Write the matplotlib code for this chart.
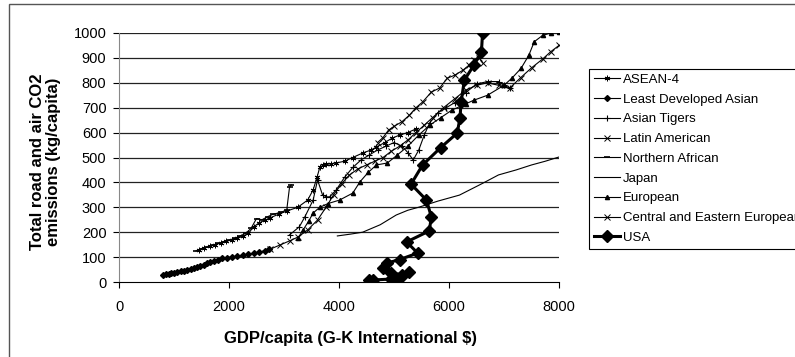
import matplotlib
matplotlib.use('Agg')
import matplotlib.pyplot as plt
from matplotlib.patches import Rectangle

plt.rcParams['font.family'] = ['Liberation Sans', 'DejaVu Sans']

# GDP/capita (x) and road+air CO2 emissions per capita (y)
asean_x = [1450, 1550, 1650, 1750, 1850, 1950, 2050, 2150, 2250, 2350, 2450, 2550, 2650, 2750,
           2900, 3050, 3250, 3430, 3530, 3600, 3650, 3700, 3770, 3850, 3950, 4100, 4250, 4430,
           4580, 4680, 4830, 4970, 5100, 5250, 5400]
asean_y = [130, 137, 143, 150, 157, 163, 170, 176, 183, 195, 222, 238, 248, 258,
           272, 285, 300, 329, 370, 420, 460, 468, 472, 475, 478, 485, 500, 518,
           530, 542, 560, 578, 590, 600, 615]

least_dev_x = [800, 850, 900, 950, 1000, 1060, 1120, 1180, 1240, 1300, 1360, 1420, 1480, 1540,
               1600, 1650, 1720, 1800, 1880, 1960, 2050, 2150, 2250, 2350, 2450, 2550, 2650, 2720]
least_dev_y = [30, 32, 34, 36, 38, 40, 43, 46, 49, 52, 56, 62, 66, 70,
               76, 82, 86, 90, 95, 98, 100, 104, 108, 112, 116, 120, 126, 132]

tigers_x = [3100, 3280, 3380, 3530, 3610, 3700, 3770, 3830, 3950, 4100, 4250, 4400, 4550, 4700,
            4850, 5000, 5150, 5250, 5350, 5450, 5550, 5650, 5800, 5950, 6100, 6300, 6500, 6700,
            6900, 7000, 7100]
tigers_y = [189, 222, 262, 329, 410, 350, 342, 342, 370, 420, 460, 490, 510, 530,
            545, 560, 545, 520, 490, 530, 590, 640, 680, 700, 720, 760, 795, 805,
            805, 790, 780]

latin_x = [2750, 2920, 3100, 3250, 3430, 3610, 3770, 3900, 4050, 4190, 4350, 4500, 4650, 4800,
           4950, 5100, 5250, 5400, 5550, 5700, 5900, 6100, 6300, 6500, 6700, 6900, 7100, 7300,
           7500, 7700, 7850, 8000]
latin_y = [132, 148, 165, 180, 209, 249, 302, 350, 395, 430, 455, 470, 485, 500,
           525, 545, 570, 600, 630, 660, 700, 735, 770, 790, 800, 790, 778, 820,
           860, 895, 925, 950]

nafrica_x = [1400, 1500, 1600, 1700, 1800, 1900, 2000, 2100, 2200, 2300, 2400, 2500, 2600, 2700,
             2800, 2950, 3050, 3100, 3130]
nafrica_y = [125, 133, 140, 148, 155, 162, 168, 175, 185, 195, 215, 255, 250, 262,
             272, 280, 290, 380, 390]

japan_x = [3970, 4200, 4430, 4750, 5040, 5250, 5460, 5800, 6190, 6600, 6900, 7220, 7500, 7750, 8000]
japan_y = [185, 192, 200, 230, 269, 288, 301, 325, 349, 395, 430, 450, 470, 485, 502]

europe_x = [3250, 3350, 3450, 3530, 3650, 3800, 4010, 4250, 4380, 4530, 4680, 4880, 5060, 5250,
            5450, 5650, 5850, 6050, 6300, 6450, 6700, 7000, 7150, 7310, 7450, 7550, 7700, 7850, 8000]
europe_y = [175, 210, 245, 277, 300, 315, 329, 357, 402, 440, 470, 478, 510, 545,
            590, 630, 660, 690, 715, 730, 750, 790, 820, 858, 910, 965, 990, 1000, 1003]

ceeu_x = [4700, 4800, 4900, 5000, 5140, 5280, 5400, 5520, 5680, 5830, 5970, 6100, 6250, 6370,
          6460, 6550, 6610]
ceeu_y = [560, 580, 610, 625, 643, 670, 700, 723, 763, 779, 819, 830, 850, 872,
          892, 900, 880]

usa_x = [4540, 4620, 4950, 5050, 5130, 5280, 5150, 4950, 4800, 4870, 5100, 5430, 5230, 5640,
         5680, 5590, 5310, 5520, 5850, 6150, 6200, 6220, 6280, 6450, 6590, 6610]
usa_y = [8, 8, 12, 8, 22, 40, 30, 35, 56, 76, 90, 116, 161, 205,
         261, 329, 393, 470, 540, 598, 660, 723, 811, 870, 925, 1000]

x_ticks = [0, 2000, 4000, 6000, 8000]
y_ticks = list(range(0, 1001, 100))

fig = plt.figure(figsize=(7.95, 3.57), dpi=100)
ax = fig.add_axes([119 / 795, 1 - 282 / 357, 440 / 795, 249 / 357])

for y in y_ticks[1:]:
    ax.axhline(y, color='#222222', lw=0.9, zorder=0)

k = dict(color='black', lw=0.8)
ax.plot(asean_x, asean_y, marker=(6, 2, 0), ms=4, mew=0.7, label='ASEAN-4', **k)
ax.plot(least_dev_x, least_dev_y, marker='D', ms=3, label='Least Developed Asian', **k)
ax.plot(tigers_x, tigers_y, marker='+', ms=5, mew=0.8, label='Asian Tigers', **k)
ax.plot(latin_x, latin_y, marker='x', ms=4, mew=0.7, label='Latin American', **k)
ax.plot(nafrica_x, nafrica_y, marker='_', ms=4, mew=1.2, label='Northern African', **k)
ax.plot(japan_x, japan_y, label='Japan', **k)
ax.plot(europe_x, europe_y, marker='^', ms=3, label='European', **k)
ax.plot(ceeu_x, ceeu_y, marker='x', ms=4, mew=0.7, label='Central and Eastern European', **k)
ax.plot(usa_x, usa_y, color='black', lw=2.2, marker='D', ms=6.5, label='USA')

ax.set_xlim(0, 8000)
ax.set_ylim(0, 1000)
ax.set_xticks(x_ticks)
ax.set_yticks(y_ticks)
ax.tick_params(labelsize=10.5, length=4, width=0.8, direction='out', pad=9)
ax.tick_params(axis='y', pad=5)
for s in ['top', 'right']:
    ax.spines[s].set_visible(False)
ax.spines['left'].set_color('#888888')
ax.spines['bottom'].set_color('black')

fig.text(350 / 795, 1 - 339 / 357, 'GDP/capita (G-K International $)', ha='center', va='center',
         fontsize=12, fontweight='bold')
fig.text(45.5 / 795, 1 - 162 / 357, 'Total road and air CO2\nemissions (kg/capita)', ha='center',
         va='center', rotation=90, fontsize=12, fontweight='bold', multialignment='center',
         linespacing=1.15)

leg = fig.legend(loc='upper left', bbox_to_anchor=(589 / 795, 1 - 69 / 357), fontsize=9.5,
                 frameon=True, fancybox=False, edgecolor='black', framealpha=1,
                 borderpad=0.35, labelspacing=0.57, handlelength=2.0, handletextpad=0.2,
                 borderaxespad=0)
leg.get_frame().set_linewidth(0.8)

fig.patches.append(Rectangle((9 / 795, -0.5), 2, 0.5 + 1 - 3.5 / 357, transform=fig.transFigure,
                             fill=False, edgecolor='#555555', lw=1))

fig.savefig('out.png', dpi=100)
